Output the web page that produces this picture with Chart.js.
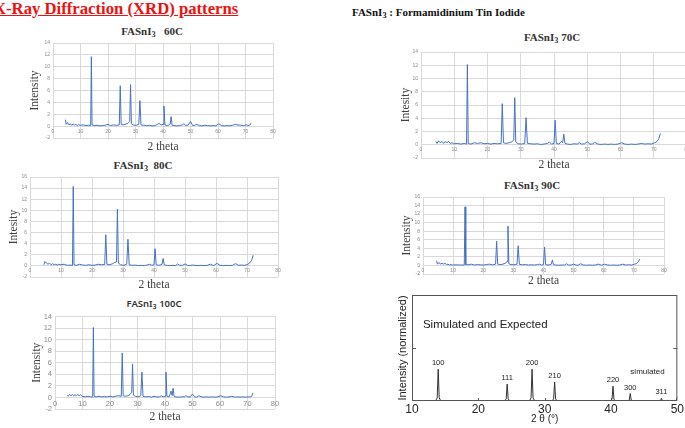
<!DOCTYPE html>
<html lang="en">
<head>
<meta charset="UTF-8" />
<title>X-Ray Diffraction (XRD) patterns</title>
<script src="https://cdn.jsdelivr.net/npm/chart.js"></script>
<style>
  body {
    margin: 0;
    width: 685px;
    height: 428px;
    overflow: hidden;
    position: relative;
    background: #fff;
    font-family: 'Liberation Serif', serif;
  }
  canvas { position: absolute; }
  .txt { position: absolute; white-space: nowrap; }
  .ttl {
    position: absolute;
    white-space: nowrap;
    transform: translate(-50%, -50%);
    font: bold 11px 'Liberation Serif', serif;
    color: #333;
  }
  .sb { font-size: 0.75em; position: relative; top: 0.3em; }
  #mainTitle {
    left: -6px; top: 0;
    font: bold 16.7px/17px 'Liberation Serif', serif;
    color: #ee1111;
    text-decoration: underline;
  }
  #header {
    left: 352px; top: 5px;
    font: bold 11px/14px 'Liberation Serif', serif;
    color: #111;
  }
</style>
</head>
<body>
  <div id="mainTitle" class="txt">X-Ray Diffraction (XRD) patterns</div>
  <div id="header" class="txt">FASnI<span class="sb">3</span> : Formamidinium Tin Iodide</div>

  <div class="ttl" style="left:152px; top:31px;">FASnI<span class="sb">3</span>&nbsp;&nbsp;&nbsp;60C</div>
  <div class="ttl" style="left:552px; top:37px;">FASnI<span class="sb">3</span> 70C</div>
  <div class="ttl" style="left:143px; top:165px;">FASnI<span class="sb">3</span>&nbsp;&nbsp;80C</div>
  <div class="ttl" style="left:532px; top:185px;">FASnI<span class="sb">3</span> 90C</div>
  <div class="ttl" style="left:154px; top:303px; font:600 9.5px 'Noto Sans', sans-serif;">FASnI<span class="sb">3</span> 100C</div>

  <canvas id="c60" width="253" height="117" style="left:28px; top:37px;"></canvas>
  <canvas id="c70" width="296" height="126" style="left:399px; top:46px;"></canvas>
  <canvas id="c80" width="279" height="121" style="left:7px; top:171px;"></canvas>
  <canvas id="c90" width="272" height="97" style="left:400px; top:191px;"></canvas>
  <canvas id="c100" width="253" height="115" style="left:30px; top:309px;"></canvas>
  <canvas id="cSim" width="289" height="132" style="left:396px; top:293px;"></canvas>

<script>
// 2 theta grid shared by the measured patterns
const angles = [
  4.5, 4.8, 5.3, 5.8, 6.3, 6.8, 7.3, 7.8, 8.3, 8.8,
  9.3, 9.8, 11, 12, 13, 13.7, 13.95, 14.2, 15, 16,
  17, 18, 19, 20, 21, 22, 23, 24.1, 24.45, 24.8,
  25.5, 26.5, 27.3, 27.9, 28.2, 28.5, 29.2, 30.2, 31.2, 31.6,
  32.0, 33, 34, 35, 36, 37, 38, 38.6, 39.3, 40.0,
  40.35, 40.7, 41.5, 42.2, 42.6, 42.95, 43.3, 44, 45, 46,
  47, 47.6, 48.3, 49.2, 50, 50.8, 51.5, 52.3, 53.2, 54.2,
  55.2, 56.2, 57.2, 58.2, 59.2, 60.3, 61.3, 62.3, 63.3, 64.3,
  65.3, 66.3, 67.3, 68.3, 69.3, 70.3, 71, 71.5, 72
];

const int60 = [
  1.1, 0.3, 0.6, 0.2, 0.4, 0.15, 0.35, 0.2, 0.3, 0.1,
  0.25, 0.15, 0.2, 0.1, 0.15, 0.1, 11.7, 0.2, 0.1, 0.15,
  0.05, 0.1, 0.15, 0.3, 0.1, 0.2, 0.15, 0.2, 6.8, 0.3,
  0.2, 0.35, 0.5, 0.8, 7.0, 0.4, 0.2, 0.15, 0.3, 4.3,
  0.2, 0.15, 0.1, 0.15, 0.05, 0.1, 0.3, 0.45, 0.2, 0.3,
  3.4, 0.2, 0.1, 0.2, 0.3, 1.6, 0.15, 0.1, 0.05, 0.1,
  0.2, 0.4, 0.1, 0.2, 0.8, 0.1, 0.15, 0.3, 0.1, 0.05,
  0.15, 0.1, 0.05, 0.1, 0.05, 0.4, 0.1, 0.05, 0.1, 0.05,
  0.15, 0.3, 0.2, 0.15, 0.1, 0.2, 0.1, 0.15, 0.5
];

const int70 = [
  0.5, 0.2, 0.6, 0.3, 0.5, 0.2, 0.5, 0.3, 0.5, 0.2,
  0.3, 0.15, 0.2, 0.1, 0.2, 0.1, 12.1, 0.2, 0.1, 0.3,
  0.2, 0.3, 0.15, 0.2, 0.1, 0.2, 0.15, 0.2, 6.2, 0.3,
  0.2, 0.3, 0.45, 0.7, 7.1, 0.4, 0.15, 0.1, 0.2, 4.1,
  0.2, 0.15, 0.1, 0.15, 0.05, 0.1, 0.2, 0.4, 0.1, 0.2,
  3.7, 0.2, 0.1, 0.5, 0.3, 1.6, 0.2, 0.1, 0.05, 0.15,
  0.1, 0.3, 0.1, 0.15, 0.45, 0.1, 0.1, 0.35, 0.1, 0.05,
  0.1, 0.05, 0.1, 0.05, 0.1, 0.3, 0.1, 0.05, 0.1, 0.05,
  0.1, 0.2, 0.1, 0.15, 0.1, 0.3, 0.5, 0.9, 1.7
];

const int80 = [
  0.2, 0.8, 0.5, 0.3, 0.5, 0.2, 0.4, 0.2, 0.3, 0.15,
  0.3, 0.2, 0.3, 0.1, 0.15, 0.1, 14.3, 0.2, 0.1, 0.3,
  0.15, 0.1, 0.2, 0.1, 0.15, 0.3, 0.2, 0.25, 5.6, 0.3,
  0.2, 0.35, 0.6, 0.7, 10.2, 0.5, 0.2, 0.1, 0.3, 4.8,
  0.2, 0.1, 0.15, 0.05, 0.1, 0.05, 0.2, 0.3, 0.1, 0.2,
  3.1, 0.2, 0.1, 0.2, 0.3, 1.35, 0.2, 0.1, 0.05, 0.1,
  0.05, 0.35, 0.1, 0.1, 0.35, 0.1, 0.05, 0.15, 0.1, 0.05,
  0.1, 0.05, 0.1, 0.3, 0.05, 0.45, 0.1, 0.05, 0.1, 0.05,
  0.1, 0.4, 0.1, 0.15, 0.1, 0.3, 0.6, 1.0, 1.9
];

const int90 = [
  1.1, 0.3, 0.7, 0.3, 0.5, 0.3, 0.5, 0.2, 0.3, 0.1,
  0.2, 0.1, 0.15, 0.1, 0.1, 0.1, 13.7, 0.2, 0.15, 0.3,
  0.1, 0.2, 0.15, 0.1, 0.2, 0.3, 0.15, 0.3, 5.7, 0.3,
  0.2, 0.3, 0.5, 0.9, 9.2, 0.4, 0.2, 0.15, 0.3, 4.6,
  0.25, 0.15, 0.2, 0.1, 0.15, 0.1, 0.2, 0.3, 0.1, 0.2,
  4.3, 0.2, 0.1, 0.2, 0.3, 1.3, 0.2, 0.1, 0.05, 0.1,
  0.1, 0.4, 0.1, 0.1, 0.3, 0.1, 0.05, 0.4, 0.1, 0.05,
  0.1, 0.05, 0.1, 0.3, 0.05, 0.3, 0.1, 0.05, 0.1, 0.05,
  0.1, 0.3, 0.1, 0.15, 0.1, 0.3, 0.5, 0.9, 1.5
];

const int100 = [
  0.4, 0.2, 0.5, 0.3, 0.5, 0.3, 0.45, 0.3, 0.5, 0.3,
  0.5, 0.2, 0.1, 0.2, 0.1, 0.1, 12.1, 0.2, 0.1, 0.2,
  0.1, 0.15, 0.1, 0.2, 0.1, 0.2, 0.3, 0.2, 7.7, 0.3,
  0.2, 0.3, 0.5, 0.9, 5.8, 0.4, 0.2, 0.1, 0.3, 4.4,
  0.2, 0.1, 0.15, 0.05, 0.2, 0.1, 0.1, 0.3, 0.1, 0.2,
  4.4, 0.2, 0.1, 1.1, 0.3, 1.6, 0.2, 0.1, 0.05, 0.1,
  0.1, 0.3, 0.1, 0.1, 0.6, 0.1, 0.05, 0.3, 0.1, 0.05,
  0.1, 0.05, 0.1, 0.05, 0.1, 0.3, 0.1, 0.05, 0.1, 0.2,
  0.05, 0.1, 0.05, 0.1, 0.05, 0.1, 0.1, 0.2, 0.8
];

// simulated pattern (normalized)
const simAngles = [
  10,
  13.55, 13.8, 13.95, 14.1, 14.35,
  23.95, 24.2, 24.35, 24.5, 24.75,
  27.7, 27.95, 28.1, 28.25, 28.5,
  31.1, 31.35, 31.5, 31.65, 31.9,
  39.9, 40.15, 40.3, 40.45, 40.7,
  42.5, 42.75, 42.9, 43.05, 43.3,
  47.2, 47.45, 47.6, 47.75, 48.0,
  49.7, 49.9, 50
];
const simIntensity = [
  0,
  0, 0.03, 0.30, 0.03, 0,
  0, 0.02, 0.16, 0.02, 0,
  0, 0.03, 0.30, 0.03, 0,
  0, 0.02, 0.18, 0.02, 0,
  0, 0.015, 0.14, 0.015, 0,
  0, 0.01, 0.07, 0.01, 0,
  0, 0.004, 0.025, 0.004, 0,
  0, 0.01, 0.04
];
const peakHkl = ['100', '111', '200', '210', '220', '300', '311'];
const peakPos = [13.95, 24.35, 28.1, 31.5, 40.3, 42.9, 47.6];
const peakTop = [0.30, 0.16, 0.30, 0.18, 0.14, 0.07, 0.025];
const simTicks = [20, 30, 40];

const gridColor = '#d9d9d9';
const tickColor = '#8c8c8c';

function xrdChart(id, values, o) {
  new Chart(document.getElementById(id), {
    type: 'line',
    data: {
      datasets: [{
        data: angles.map((a, i) => ({ x: a, y: values[i] })),
        borderColor: '#4472c4',
        borderWidth: 1,
        pointRadius: 0,
        tension: 0
      }]
    },
    options: {
      responsive: false,
      animation: false,
      devicePixelRatio: 1,
      layout: { padding: { top: 6, right: 8, left: 0, bottom: 0 } },
      plugins: { legend: { display: false }, tooltip: { enabled: false } },
      scales: {
        x: {
          type: 'linear', min: 0, max: 80,
          ticks: { display: false, stepSize: 10 },
          grid: { color: gridColor, drawTicks: false },
          border: { display: false },
          title: { display: true, text: '2 theta', color: '#404040', padding: 0,
                   font: { family: 'Liberation Serif', size: 11.5 } },
          afterFit: s => { s.height = o.xH; }
        },
        x2: {
          type: 'linear', position: { y: 0 }, min: 0, max: 80,
          ticks: { stepSize: 10, autoSkip: false, maxRotation: 0, color: tickColor, padding: 2, font: { size: o.tick } },
          grid: { display: false, drawTicks: false },
          border: { display: false }
        },
        y: {
          min: -2, max: o.ymax,
          ticks: { stepSize: 2, autoSkip: false, color: tickColor, padding: 3, font: { size: o.tick } },
          grid: { color: gridColor, drawTicks: false },
          border: { display: false },
          title: { display: true, text: o.ylabel, color: '#404040', padding: 0,
                   font: { family: 'Liberation Serif', size: 11.5 } },
          afterFit: s => { s.width = o.yW; }
        }
      }
    }
  });
}

xrdChart('c60', int60, { yW: 25, xH: 16, ymax: 14, tick: 5, ylabel: 'Intensity' });
xrdChart('c70', int70, { yW: 22, xH: 14, ymax: 14, tick: 5, ylabel: 'Intesity' });
xrdChart('c80', int80, { yW: 23, xH: 15, ymax: 16, tick: 5, ylabel: 'Intesity' });
xrdChart('c90', int90, { yW: 23, xH: 14, ymax: 16, tick: 5, ylabel: 'Intensity' });
xrdChart('c100', int100, { yW: 25, xH: 15, ymax: 14, tick: 7.5, ylabel: 'Intensity' });

// box frame with inner ticks, like the plotting program draws it
const framePlugin = {
  id: 'frame',
  afterDatasetsDraw(chart) {
    const { ctx, chartArea: a, scales } = chart;
    ctx.save();
    ctx.strokeStyle = '#555';
    ctx.lineWidth = 1;
    ctx.strokeRect(a.left + 0.5, a.top + 0.5, a.width - 1, a.height - 1);
    const ym = Math.round(scales.y.getPixelForValue(0.5)) + 0.5;
    ctx.beginPath();
    ctx.moveTo(a.left, ym); ctx.lineTo(a.left + 4, ym);
    ctx.moveTo(a.right, ym); ctx.lineTo(a.right - 4, ym);
    simTicks.forEach(t => {
      const px = Math.round(scales.x.getPixelForValue(t)) + 0.5;
      ctx.moveTo(px, a.bottom); ctx.lineTo(px, a.bottom - 3);
    });
    ctx.stroke();
    ctx.restore();
  }
};

const labelPlugin = {
  id: 'peakLabels',
  afterDatasetsDraw(chart) {
    const { ctx, scales: { x, y } } = chart;
    ctx.save();
    ctx.fillStyle = '#222';
    ctx.textAlign = 'center';
    ctx.textBaseline = 'middle';
    ctx.font = '7.5px "Liberation Sans"';
    peakHkl.forEach((t, i) => {
      ctx.fillText(t, x.getPixelForValue(peakPos[i]), y.getPixelForValue(peakTop[i]) - 6);
    });
    ctx.font = '8px "Liberation Sans"';
    ctx.fillText('simulated', x.getPixelForValue(45.5), y.getPixelForValue(0.28));
    ctx.textAlign = 'left';
    ctx.font = '11.5px "Liberation Sans"';
    ctx.fillText('Simulated and Expected', x.getPixelForValue(11.65), y.getPixelForValue(0.72));
    ctx.restore();
  }
};

new Chart(document.getElementById('cSim'), {
  type: 'line',
  data: {
    datasets: [{
      data: simAngles.map((a, i) => ({ x: a, y: simIntensity[i] })),
      borderColor: '#333',
      borderWidth: 1,
      pointRadius: 0,
      tension: 0
    }]
  },
  options: {
    responsive: false,
    animation: false,
    devicePixelRatio: 1,
    layout: { padding: { top: 2, right: 7, left: 0, bottom: 0 } },
    plugins: { legend: { display: false }, tooltip: { enabled: false } },
    scales: {
      x: {
        type: 'linear', min: 10, max: 50,
        ticks: { stepSize: 10, color: '#222', padding: 1, font: { family: 'Liberation Sans', size: 12 } },
        grid: { display: false, drawTicks: false },
        border: { display: false },
        title: { display: true, text: '2 θ (°)', color: '#222', padding: 0,
                 font: { family: 'Liberation Sans', size: 10 } },
        afterFit: s => { s.height = 24; }
      },
      y: {
        min: 0, max: 1,
        ticks: { display: false, stepSize: 0.5 },
        grid: { display: false, drawTicks: false },
        border: { display: false },
        title: { display: true, text: 'Intensity (normalized)', color: '#222', padding: 0,
                 font: { family: 'Liberation Sans', size: 11 } },
        afterFit: s => { s.width = 16; }
      }
    }
  },
  plugins: [framePlugin, labelPlugin]
});
</script>
</body>
</html>
